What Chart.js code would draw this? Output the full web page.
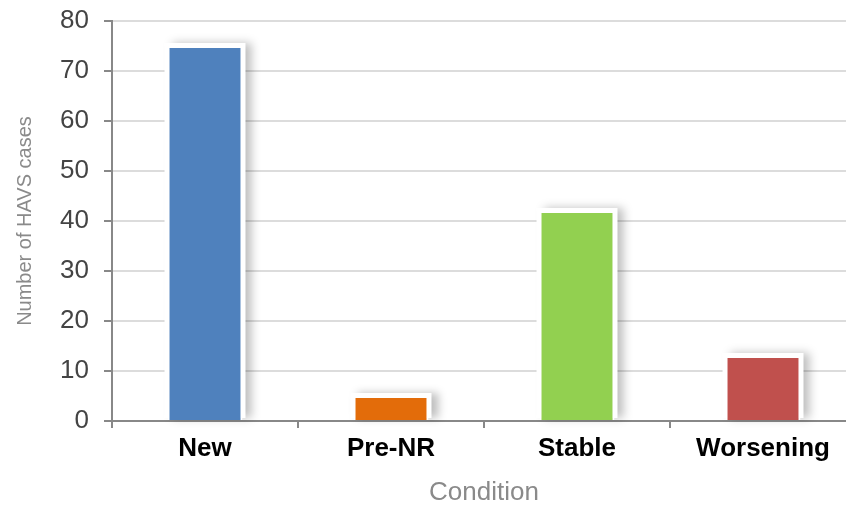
<!DOCTYPE html>
<html>
<head>
<meta charset="utf-8">
<script src="https://cdn.jsdelivr.net/npm/chart.js@4"></script>
<style>
  html, body { margin: 0; padding: 0; background: #fff; overflow: hidden; }
  #wrap { width: 860px; height: 506px; }
</style>
</head>
<body>
<div id="wrap"><canvas id="chart" width="860" height="506"></canvas></div>
<script>
// condition categories and case counts
const conditions = ["New", "Pre-NR", "Stable", "Worsening"];
const caseCounts = [75, 5, 42, 13];
const barColours = ["#4f81bd", "#e36c0a", "#92d050", "#c0504d"];
const yTicks = [0, 10, 20, 30, 40, 50, 60, 70, 80];

// white halo + soft grey shadow behind each bar
const barShadow = {
  id: "barShadow",
  beforeDatasetsDraw(chart) {
    const ctx = chart.ctx;
    chart.getDatasetMeta(0).data.forEach((bar) => {
      const left = bar.x - bar.width / 2;
      const top = bar.y;
      ctx.save();
      ctx.shadowColor = "rgba(0,0,0,0.25)";
      ctx.shadowBlur = 9;
      ctx.shadowOffsetX = 7;
      ctx.shadowOffsetY = 0;
      ctx.fillStyle = "#fff";
      ctx.fillRect(left - 3, top - 3, bar.width + 6, bar.base - top + 1);
      ctx.restore();
    });
  },
};

new Chart(document.getElementById("chart"), {
  type: "bar",
  data: {
    labels: conditions,
    datasets: [
      {
        data: caseCounts,
        backgroundColor: barColours,
        borderColor: "#ffffff",
        borderWidth: 2,
        borderSkipped: "start",
        barPercentage: 0.403,
        categoryPercentage: 1,
      },
    ],
  },
  options: {
    responsive: false,
    animation: false,
    layout: { padding: { top: 21, right: 4, left: 0, bottom: 0 } },
    plugins: { legend: { display: false }, tooltip: { enabled: false } },
    scales: {
      x: {
        grid: {
          drawOnChartArea: false,
          offset: true,
          tickLength: 7,
          color: "#888",
          lineWidth: 2,
        },
        border: { color: "#888", width: 2 },
        ticks: {
          color: "#000",
          padding: 5,
          font: { family: "Liberation Sans", size: 26, weight: "bold" },
        },
        title: {
          display: true,
          text: "Condition",
          color: "#8a8a8a",
          padding: { top: 0, bottom: 0 },
          font: { family: "Liberation Sans", size: 26, lineHeight: 1 },
        },
        afterFit(scale) { scale.height = 85; },
      },
      y: {
        min: 0,
        max: 80,
        afterBuildTicks(scale) { scale.ticks = yTicks.map((v) => ({ value: v })); },
        grid: {
          color: "#dcdcdc",
          lineWidth: 2,
          tickLength: 8,
          tickColor: "#888",
        },
        border: { color: "#888", width: 2 },
        ticks: {
          color: "#444",
          padding: 15,
          font: { family: "Liberation Sans", size: 26 },
        },
        title: {
          display: true,
          text: "Number of HAVS cases",
          color: "#8a8a8a",
          padding: { top: 15, bottom: 0 },
          font: { family: "Liberation Sans", size: 20, lineHeight: 1 },
        },
        afterFit(scale) {
          scale.width = 112;
          scale.paddingTop = 0;
          scale.paddingBottom = 0;
        },
      },
    },
  },
  plugins: [barShadow],
});
</script>
</body>
</html>
